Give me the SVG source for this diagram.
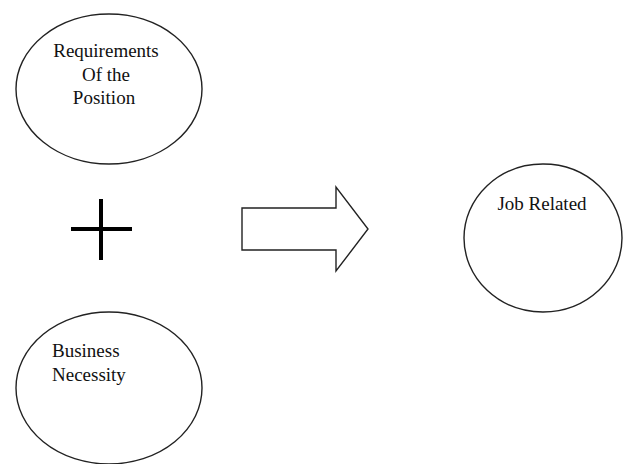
<svg xmlns="http://www.w3.org/2000/svg" width="628" height="464" viewBox="0 0 628 464">
<style>
.shape{fill:none;stroke:#222;stroke-width:1.4}
.t{font-family:"Liberation Serif","Times New Roman",serif;font-size:19px;fill:#111}
.c{text-anchor:middle}
</style>
<rect width="628" height="464" fill="#fff"/>
<g id="node-requirements">
<ellipse class="shape" cx="109" cy="89" rx="93" ry="75"/>
<text class="t c" x="106" y="57">Requirements</text>
<text class="t c" x="106" y="81">Of the</text>
<text class="t c" x="104" y="104">Position</text>
</g>
<g id="node-business">
<ellipse class="shape" cx="109" cy="388" rx="93" ry="76"/>
<text class="t" x="52" y="357">Business</text>
<text class="t" x="52" y="381">Necessity</text>
</g>
<g id="node-job">
<ellipse class="shape" cx="543" cy="238" rx="79" ry="74"/>
<text class="t c" x="542" y="210">Job Related</text>
</g>
<g id="connectors">
<g id="plus">
<line x1="71" y1="229" x2="132" y2="229" stroke="#000" stroke-width="4"/>
<line x1="101" y1="199" x2="101" y2="260" stroke="#000" stroke-width="4"/>
</g>
<polygon id="arrow" class="shape" fill="#fff" points="242,208 336,208 336,187 368,229 336,271 336,250 242,250"/>
</g>
</svg>
